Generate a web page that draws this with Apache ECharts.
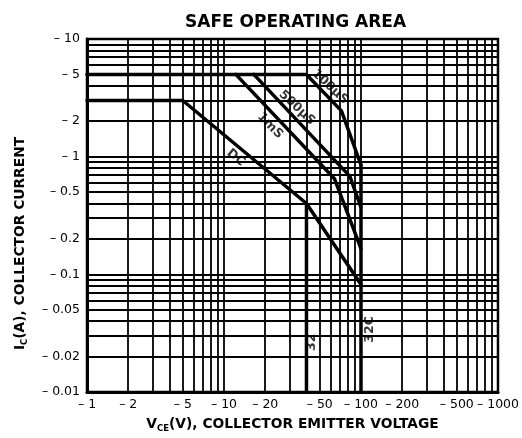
<!DOCTYPE html>
<html>
<head>
<meta charset="utf-8">
<script src="https://cdn.jsdelivr.net/npm/echarts@6/dist/echarts.min.js"></script>
<style>
html,body{margin:0;padding:0;background:#fff;}
#chart{width:522px;height:438px;}
</style>
</head>
<body>
<div id="chart"></div>
<script>
// 坐标刻度
const xTicks = [1, 2, 5, 10, 20, 50, 100, 200, 500, 1000];
const yTicks = [0.01, 0.02, 0.05, 0.1, 0.2, 0.5, 1, 2, 5, 10];

// 各曲线 [V, I]
const dcCurve = [[1, 3], [5, 3], [40, 0.4], [100, 0.082]];
const ms1Curve = [[12.2, 5], [64, 0.65], [100, 0.165]];
const us500Curve = [[16.5, 5], [83, 0.68], [100, 0.37]];
const us100Curve = [[1, 5], [40, 5], [72, 2.45], [100, 0.85]];
const limit32 = [[40, 0.4], [40, 0.01]];
const limit32C = [[100, 0.85], [100, 0.01]];

// 曲线标注
const curveLabels = [
  { name: '100µS', value: [59.4, 3.92], rotate: -43 },
  { name: '500µS', value: [34.1, 2.6], rotate: -43 },
  { name: '1mS', value: [21.7, 1.83], rotate: -46 },
  { name: 'DC', value: [12.2, 0.98], rotate: -40 },
  { name: '32', value: [43.4, 0.0265], rotate: 90 },
  { name: '32C', value: [116, 0.034], rotate: 90 }
];

// 网格线：每个十进制的 1..9 倍
const gridValues = (from, to) => {
  const arr = [];
  for (let d = from; d < to; d *= 10) {
    for (let k = 1; k < 10; k++) arr.push(+(d * k).toPrecision(3));
  }
  arr.push(to);
  return arr;
};
const xGrid = gridValues(1, 1000);
const yGrid = gridValues(0.01, 10);

const wide = 'DejaVu Sans';
const fmt = v => '\u2013 ' + (+Number(v).toPrecision(3));

const chart = echarts.init(document.getElementById('chart'), null, { renderer: 'canvas' });

const lineSeries = (name, data) => ({
  name: name,
  type: 'line',
  data: data,
  symbol: 'none',
  silent: true,
  z: 5,
  lineStyle: { color: '#000', width: 3.5, cap: 'round', join: 'round' }
});

const nameRich = {
  m: { fontFamily: wide, fontSize: 13.8, fontWeight: 'bold', color: '#000' },
  s: { fontFamily: wide, fontSize: 8.5, fontWeight: 'bold', color: '#000', padding: [8, 0, 0, 0] }
};

chart.setOption({
  backgroundColor: '#fff',
  animation: false,
  title: {
    text: 'SAFE OPERATING AREA',
    left: 180,
    top: 9,
    textStyle: { fontFamily: wide, fontSize: 17, fontWeight: 'bold', color: '#000' }
  },
  grid: {
    left: 87, right: 24, top: 39, bottom: 45,
    show: true, borderColor: '#000', borderWidth: 2.5
  },
  xAxis: {
    type: 'log',
    logBase: 10,
    min: 1,
    max: 1000,
    name: '{m|V}{s|CE}{m|(V), COLLECTOR EMITTER VOLTAGE}',
    nameLocation: 'middle',
    nameGap: 24,
    nameTextStyle: { rich: nameRich },
    axisLine: { onZero: false, lineStyle: { color: '#000', width: 3 } },
    axisTick: { show: false, customValues: xGrid },
    axisLabel: {
      customValues: xTicks,
      formatter: fmt,
      margin: 6,
      showMinLabel: true,
      showMaxLabel: true,
      fontFamily: wide, fontSize: 12.5, color: '#000'
    },
    splitLine: { show: true, lineStyle: { color: '#000', width: 1.8 } }
  },
  yAxis: {
    type: 'log',
    logBase: 10,
    min: 0.01,
    max: 10,
    name: '{m|I}{s|C}{m|(A), COLLECTOR CURRENT}',
    nameLocation: 'middle',
    nameGap: 58,
    nameRotate: 90,
    nameTextStyle: { rich: nameRich, padding: [0, 56, 0, 0] },
    axisLine: { onZero: false, lineStyle: { color: '#000', width: 3 } },
    axisTick: { show: false, customValues: yGrid },
    axisLabel: {
      customValues: yTicks,
      formatter: fmt,
      margin: 7,
      fontFamily: wide, fontSize: 12.5, color: '#000'
    },
    splitLine: { show: true, lineStyle: { color: '#000', width: 1.8 } }
  },
  series: [
    lineSeries('DC', dcCurve),
    lineSeries('1mS', ms1Curve),
    lineSeries('500µS', us500Curve),
    lineSeries('100µS', us100Curve),
    lineSeries('32', limit32),
    lineSeries('32C', limit32C),
    {
      type: 'scatter',
      data: curveLabels.map(d => ({
        name: d.name,
        value: d.value,
        label: { rotate: d.rotate }
      })),
      symbolSize: 0,
      silent: true,
      z: 6,
      label: {
        show: true,
        position: 'inside',
        formatter: '{b}',
        fontFamily: wide,
        fontSize: 12.5,
        fontWeight: 'bold',
        color: '#000'
      }
    }
  ]
});
</script>
</body>
</html>
